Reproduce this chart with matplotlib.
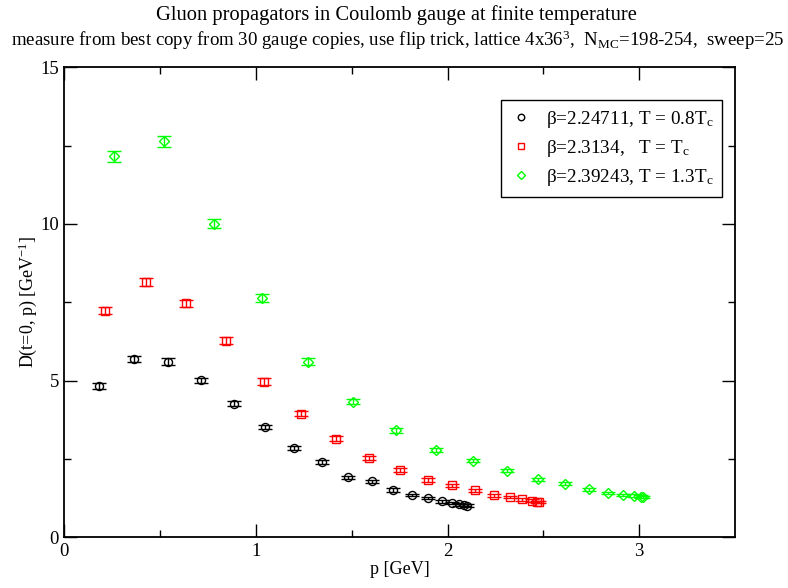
import matplotlib
matplotlib.use("Agg")
import matplotlib.pyplot as plt

plt.rcParams['font.family'] = ['Liberation Serif', 'DejaVu Serif']
plt.rcParams['mathtext.fontset'] = 'custom'
plt.rcParams['mathtext.rm'] = 'Liberation Serif'
plt.rcParams['mathtext.it'] = 'Liberation Serif:italic'

# beta = 2.24711, T = 0.8 Tc
p1 = [0.181, 0.362, 0.539, 0.713, 0.883, 1.047, 1.200, 1.345, 1.478, 1.604,
      1.715, 1.814, 1.900, 1.969, 2.025, 2.061, 2.084, 2.100]
d1 = [4.83, 5.69, 5.61, 5.01, 4.27, 3.52, 2.84, 2.40, 1.92, 1.79,
      1.51, 1.35, 1.26, 1.15, 1.10, 1.05, 1.03, 1.01]
e1 = [0.09, 0.10, 0.10, 0.09, 0.08, 0.07, 0.06, 0.06, 0.05, 0.05,
      0.05, 0.04, 0.04, 0.04, 0.04, 0.04, 0.04, 0.04]

# beta = 2.3134, T = Tc
p2 = [0.212, 0.426, 0.636, 0.843, 1.043, 1.235, 1.418, 1.590, 1.750, 1.896,
      2.025, 2.143, 2.242, 2.324, 2.391, 2.439, 2.466, 2.477]
d2 = [7.23, 8.15, 7.47, 6.27, 4.97, 3.95, 3.15, 2.54, 2.16, 1.83,
      1.66, 1.50, 1.34, 1.28, 1.21, 1.17, 1.13, 1.12]
e2 = [0.11, 0.14, 0.12, 0.11, 0.10, 0.08, 0.07, 0.06, 0.06, 0.05,
      0.05, 0.05, 0.04, 0.04, 0.04, 0.04, 0.04, 0.04]

# beta = 2.39243, T = 1.3 Tc
p3 = [0.259, 0.521, 0.779, 1.030, 1.273, 1.508, 1.729, 1.940, 2.134, 2.310,
      2.473, 2.614, 2.736, 2.837, 2.915, 2.973, 3.009, 3.020]
d3 = [12.16, 12.64, 10.01, 7.63, 5.61, 4.33, 3.41, 2.78, 2.45, 2.13,
      1.85, 1.71, 1.53, 1.42, 1.35, 1.33, 1.30, 1.29]
e3 = [0.17, 0.18, 0.14, 0.13, 0.10, 0.08, 0.07, 0.06, 0.06, 0.05,
      0.05, 0.05, 0.04, 0.04, 0.04, 0.04, 0.04, 0.04]

labels = [r'β=2.24711, T = 0.8T$_{\rm c}$',
          r'β=2.3134,   T = T$_{\rm c}$',
          r'β=2.39243, T = 1.3T$_{\rm c}$']

fig = plt.figure(figsize=(7.88, 5.88), dpi=100)
ax = fig.add_axes([0.0817, 0.0862, 0.851, 0.7993])

series = [(p1, d1, e1, 'o', 'black'),
          (p2, d2, e2, 's', 'red'),
          (p3, d3, e3, 'D', '#00ff00')]
for (p, d, e, m, c), lab in zip(series, labels):
    ax.errorbar(p, d, yerr=e, fmt='none', ecolor=c, elinewidth=1.0,
                capsize=5, capthick=1.0)
    ms = 4.8 if m == 'D' else 5.8
    ax.plot(p, d, ls='none', marker=m, ms=ms, mfc='none', mec=c, mew=1.0,
            label=lab)

ax.set_xlim(0, 3.5)
ax.set_ylim(0, 15)
ax.set_xticks([0, 1, 2, 3])
ax.set_xticks([0.5, 1.5, 2.5], minor=True)
ax.set_yticks([0, 5, 10, 15])
ax.set_yticks([2.5, 7.5, 12.5], minor=True)
ax.tick_params(which='both', direction='in', top=True, right=True,
               labelsize=13.5, width=1.0)
ax.tick_params(which='major', length=9.5, pad=4)
ax.tick_params(which='minor', length=5)
for s in ax.spines.values():
    s.set_linewidth(1.3)

ax.set_xlabel('p [GeV]', fontsize=13, labelpad=1)
ax.set_ylabel(r'D(t=0, p) [GeV$^{-1}$]', fontsize=13, labelpad=1)

fig.text(0.503, 0.974, 'Gluon propagators in Coulomb gauge at finite temperature',
         ha='center', va='center', fontsize=14.8)
fig.text(0.504, 0.931,
         r'measure from best copy from 30 gauge copies, use flip trick, lattice 4x36$^3$,  N$_{\rm MC}$=198-254,  sweep=25',
         ha='center', va='center', fontsize=13.6)

leg = ax.legend(loc='upper right', bbox_to_anchor=(0.981, 0.93),
                borderaxespad=0, fancybox=False, framealpha=1,
                edgecolor='black', fontsize=13.8, handlelength=1.2,
                handletextpad=0.7, markerscale=0.8, borderpad=0.45,
                labelspacing=0.42)
leg.get_frame().set_linewidth(1.0)

fig.savefig('out.png', dpi=100)
